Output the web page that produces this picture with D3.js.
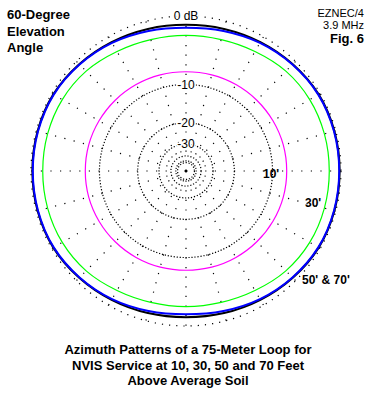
<!DOCTYPE html>
<html>
<head>
<meta charset="utf-8">
<script src="https://cdn.jsdelivr.net/npm/d3@7/dist/d3.min.js"></script>
<style>
  html, body { margin: 0; padding: 0; background: #fff; }
  svg { display: block; }
  text { font-family: "Liberation Sans", Arial, sans-serif; }
</style>
</head>
<body>
<div id="chart"></div>
<script>
// azimuth (deg, counter-clockwise from east) and gain (dB) per height
const azimuths = [0, 15, 30, 45, 60, 75, 90, 105, 120, 135, 150, 165,
                  180, 195, 210, 225, 240, 255, 270, 285, 300, 315, 330, 345]
const gain10 = [-7.4, -7.4, -7.45, -7.5, -7.55, -7.6, -7.65, -7.6, -7.55, -7.5, -7.45, -7.4,
                -7.4, -7.4, -7.45, -7.5, -7.55, -7.6, -7.65, -7.6, -7.55, -7.5, -7.45, -7.4]
const gain30 = [-1.35, -1.35, -1.4, -1.6, -2.0, -2.25, -2.3, -2.25, -2.0, -1.6, -1.4, -1.35,
                -1.35, -1.35, -1.4, -1.6, -2.0, -2.25, -2.3, -2.25, -2.0, -1.6, -1.4, -1.35]
const gain50 = [-0.15, -0.15, -0.2, -0.45, -0.7, -0.9, -1.0, -0.9, -0.7, -0.45, -0.2, -0.15,
                -0.15, -0.15, -0.2, -0.45, -0.7, -0.9, -1.0, -0.9, -0.7, -0.45, -0.2, -0.15]
const gain70 = [-0.2, -0.2, -0.25, -0.5, -0.8, -1.15, -1.35, -1.15, -0.8, -0.5, -0.25, -0.2,
                -0.2, -0.2, -0.25, -0.5, -0.8, -1.15, -1.35, -1.15, -0.8, -0.5, -0.25, -0.2]

const ringDb = [0, -10, -20, -30, -40, -50]
const ringLabels = ["0 dB", "-10", "-20", "-30"]
const spokeAngles = d3.range(0, 360, 15)

const titleLeft = ["60-Degree", "Elevation", "Angle"]
const infoRight = ["EZNEC/4", "3.9 MHz", "Fig. 6"]
const caption = ["Azimuth Patterns of a 75-Meter Loop for",
                 "NVIS Service at 10, 30, 50 and 70 Feet",
                 "Above Average Soil"]

const width = 376, height = 400
const cx = 186, cy = 171, R = 155

const svg = d3.select("#chart").append("svg")
  .attr("width", width).attr("height", height)

// ARRL log scale: 0.89 per 2 dB
const rScale = d3.scaleLinear().domain([0, 1]).range([0, R])
const rOf = db => rScale(Math.pow(0.89, -db / 2))

const plot = svg.append("g").attr("transform", `translate(${cx},${cy})`)

// Spokes
plot.selectAll(".spoke")
  .data(spokeAngles)
  .join("line")
  .attr("x1", 0).attr("y1", 0)
  .attr("x2", d => R * Math.cos(d * Math.PI / 180))
  .attr("y2", d => -R * Math.sin(d * Math.PI / 180))
  .attr("stroke", "#000")
  .attr("stroke-width", 1.2)
  .attr("stroke-dasharray", "1.2,8.4")

// Rings
plot.selectAll(".ring")
  .data(ringDb)
  .join("circle")
  .attr("r", d => rOf(d))
  .attr("fill", "none")
  .attr("stroke", "#000")
  .attr("stroke-width", 1.2)
  .attr("stroke-dasharray", d => d === 0 ? "1.2,6" : "1.2,1.8")

// Patterns
const line = d3.lineRadial()
  .angle(d => Math.PI / 2 - d.az * Math.PI / 180)
  .radius(d => rOf(d.db))
  .curve(d3.curveCatmullRomClosed)

const series = [
  { name: "10'", values: gain10, color: "#ff00ff", w: 1.2 },
  { name: "30'", values: gain30, color: "#00ff00", w: 1.2 },
  { name: "50'", values: gain50, color: "#000000", w: 2 },
  { name: "70'", values: gain70, color: "#0000ff", w: 2 }
]

plot.selectAll(".pattern")
  .data(series)
  .join("path")
  .attr("d", s => line(azimuths.map((az, i) => ({ az, db: s.values[i] }))))
  .attr("fill", "none")
  .attr("stroke", s => s.color)
  .attr("stroke-width", s => s.w)

// Ring labels
plot.selectAll(".ringlabel")
  .data(ringLabels)
  .join("text")
  .attr("x", 0)
  .attr("y", (d, i) => -rOf(ringDb[i]))
  .attr("dy", "0.36em")
  .attr("text-anchor", "middle")
  .attr("font-size", "12px")
  .attr("fill", "#000")
  .attr("stroke", "#fff")
  .attr("stroke-width", 3)
  .attr("paint-order", "stroke")
  .text(d => d)

// Curve labels
const curveLabels = [
  { text: "10'", x: 263, y: 178 },
  { text: "30'", x: 305, y: 207 },
  { text: "50' & 70'", x: 302, y: 284 }
]
svg.selectAll(".clabel")
  .data(curveLabels)
  .join("text")
  .attr("x", d => d.x).attr("y", d => d.y)
  .attr("font-size", "12px")
  .attr("font-weight", "bold")
  .text(d => d.text)

// Top-left title
svg.selectAll(".tl")
  .data(titleLeft)
  .join("text")
  .attr("x", 7)
  .attr("y", (d, i) => 19 + i * 16.5)
  .attr("font-size", "13px")
  .attr("font-weight", "bold")
  .text(d => d)

// Top-right info
svg.selectAll(".tr")
  .data(infoRight)
  .join("text")
  .attr("x", 364)
  .attr("y", (d, i) => [17, 29, 43][i])
  .attr("text-anchor", "end")
  .attr("font-size", (d, i) => i === 2 ? "13px" : "11px")
  .attr("font-weight", (d, i) => i === 2 ? "bold" : "normal")
  .text(d => d)

// Caption
svg.selectAll(".cap")
  .data(caption)
  .join("text")
  .attr("x", 188)
  .attr("y", (d, i) => 354 + i * 15.5)
  .attr("text-anchor", "middle")
  .attr("font-size", "13px")
  .attr("font-weight", "bold")
  .text(d => d)
</script>
</body>
</html>
